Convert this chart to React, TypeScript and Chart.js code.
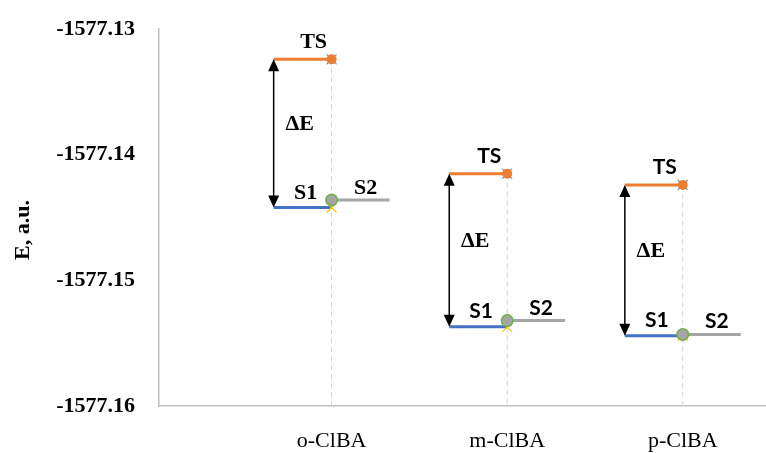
import React, { useEffect, useRef } from "react";
import { Chart, registerables } from "chart.js";

Chart.register(...registerables);

// ---- data ----
const CATEGORIES = ["o-ClBA", "m-ClBA", "p-ClBA"];
const TS_E = [-1577.1324, -1577.1415, -1577.1424];
const S1_E = [-1577.1442, -1577.1537, -1577.1544];
const S2_E = [-1577.1436, -1577.1532, -1577.1543];
const Y_TICKS = [-1577.16, -1577.15, -1577.14, -1577.13];
const Y_TITLE = "E, a.u.";
const DELTA_LABEL = "ΔE";

// ---- styles / layout ----
const HALF = 0.33;
const ORANGE = "#ED7D31";
const BLUE = "#4472C4";
const GRAY = "#A5A5A5";
const GREEN = "#70AD47";
const YELLOW = "#FFC000";
const LIGHTBLUE = "#5B9BD5";
const SERIF = "'Liberation Serif', 'Times New Roman', serif";
const SANS = "Lato, 'Open Sans', sans-serif";
const LEVEL_FONTS = [`bold 22px ${SERIF}`, `bold 21px ${SANS}`, `bold 21px ${SANS}`];

const Y_MIN = Y_TICKS[0];
const Y_MAX = Y_TICKS[Y_TICKS.length - 1];

function levelLine(x0: number, x1: number, y: number, color: string) {
  return {
    data: [
      { x: x0, y },
      { x: x1, y },
    ],
    showLine: true,
    borderColor: color,
    backgroundColor: color,
    borderWidth: 3,
    pointRadius: 0,
    order: 5,
  };
}

const annotPlugin = {
  id: "annot",
  afterDatasetsDraw(chart: any) {
    const { ctx, scales } = chart;
    const xs = scales.x;
    const ys = scales.y;
    ctx.save();
    CATEGORIES.forEach((_, i) => {
      const px = xs.getPixelForValue(i + 1);
      const ax = xs.getPixelForValue(i + 1 - HALF);
      const yT = ys.getPixelForValue(TS_E[i]);
      const y1 = ys.getPixelForValue(S1_E[i]);
      const y2 = ys.getPixelForValue(S2_E[i]);
      // double arrow
      const head = 12;
      const hw = 5.5;
      ctx.strokeStyle = "#000";
      ctx.fillStyle = "#000";
      ctx.lineWidth = 1.5;
      ctx.beginPath();
      ctx.moveTo(ax, yT + head - 1);
      ctx.lineTo(ax, y1 - head + 1);
      ctx.stroke();
      ctx.beginPath();
      ctx.moveTo(ax, yT);
      ctx.lineTo(ax - hw, yT + head);
      ctx.lineTo(ax + hw, yT + head);
      ctx.closePath();
      ctx.fill();
      ctx.beginPath();
      ctx.moveTo(ax, y1);
      ctx.lineTo(ax - hw, y1 - head);
      ctx.lineTo(ax + hw, y1 - head);
      ctx.closePath();
      ctx.fill();
      // labels
      ctx.textAlign = "center";
      ctx.textBaseline = "alphabetic";
      ctx.font = LEVEL_FONTS[i];
      ctx.fillText("TS", px - 18, yT - 11);
      ctx.fillText("S1", px - 26, y1 - 9);
      ctx.fillText("S2", px + 34, y2 - 6);
      ctx.font = `bold 22px ${SERIF}`;
      ctx.fillText(DELTA_LABEL, ax + 26, (yT + y1) / 2 - 3);
    });
    // y-axis title
    ctx.save();
    ctx.translate(23, 230);
    ctx.rotate(-Math.PI / 2);
    ctx.font = `bold 22px ${SERIF}`;
    ctx.textAlign = "center";
    ctx.textBaseline = "middle";
    ctx.fillStyle = "#000";
    ctx.fillText(Y_TITLE, 0, 0);
    ctx.restore();
    ctx.restore();
  },
};

export default function App() {
  const ref = useRef<HTMLCanvasElement | null>(null);

  useEffect(() => {
    if (!ref.current) return;
    const idx = CATEGORIES.map((_, i) => i);

    const dropLines = idx.map((i) => ({
      data: [
        { x: i + 1, y: TS_E[i] },
        { x: i + 1, y: Y_MIN },
      ],
      showLine: true,
      borderColor: "#D0D0D0",
      borderWidth: 1,
      borderDash: [5, 4],
      pointRadius: 0,
      order: 10,
    }));
    const tsLines = idx.map((i) => levelLine(i + 1 - HALF, i + 1, TS_E[i], ORANGE));
    const s1Lines = idx.map((i) => levelLine(i + 1 - HALF, i + 1, S1_E[i], BLUE));
    const s2Lines = idx.map((i) => levelLine(i + 1, i + 1 + HALF, S2_E[i], GRAY));

    const markers = [
      {
        data: idx.map((i) => ({ x: i + 1, y: S1_E[i] })),
        pointStyle: "crossRot",
        pointRadius: 7,
        borderColor: YELLOW,
        borderWidth: 1.2,
        order: 4,
      },
      {
        data: idx.map((i) => ({ x: i + 1, y: S2_E[i] })),
        pointStyle: "circle",
        pointRadius: 6.5,
        backgroundColor: GREEN,
        borderColor: GREEN,
        borderWidth: 0,
        order: 3,
      },
      {
        data: idx.map((i) => ({ x: i + 1, y: S2_E[i] })),
        pointStyle: "circle",
        pointRadius: 5,
        backgroundColor: GRAY,
        borderColor: GRAY,
        borderWidth: 0,
        order: 2,
      },
      {
        data: idx.map((i) => ({ x: i + 1, y: TS_E[i] })),
        pointStyle: "crossRot",
        pointRadius: 7,
        borderColor: LIGHTBLUE,
        borderWidth: 1.2,
        order: 1,
      },
      {
        data: idx.map((i) => ({ x: i + 1, y: TS_E[i] })),
        pointStyle: "circle",
        pointRadius: 5,
        backgroundColor: ORANGE,
        borderColor: ORANGE,
        borderWidth: 0,
        order: 0,
      },
    ];

    const chart = new Chart(ref.current, {
      type: "scatter",
      data: {
        datasets: [...dropLines, ...tsLines, ...s1Lines, ...s2Lines, ...markers] as any,
      },
      options: {
        responsive: false,
        animation: false,
        devicePixelRatio: 1,
        layout: { padding: { top: 28, right: 0, left: 0, bottom: 0 } },
        plugins: { legend: { display: false }, tooltip: { enabled: false } },
        events: [],
        scales: {
          x: {
            type: "linear",
            min: 0.017,
            max: 3.507,
            grid: { display: false },
            border: { display: true, color: "#BFBFBF", width: 1.5 },
            afterBuildTicks: (s: any) => {
              s.ticks = CATEGORIES.map((_, i) => ({ value: i + 1 }));
            },
            afterFit: (s: any) => {
              s.height = 47;
            },
            ticks: {
              padding: 14,
              color: "#000",
              font: { family: SERIF, size: 22, weight: "normal" },
              callback: (v: any) => CATEGORIES[Math.round(Number(v)) - 1] ?? "",
            },
          },
          y: {
            type: "linear",
            min: Y_MIN,
            max: Y_MAX,
            grid: { display: false },
            border: { display: true, color: "#BFBFBF", width: 1.5 },
            afterBuildTicks: (s: any) => {
              s.ticks = Y_TICKS.map((v) => ({ value: v }));
            },
            afterFit: (s: any) => {
              s.width = 159;
            },
            ticks: {
              padding: 16,
              color: "#000",
              font: { family: SERIF, size: 22, weight: "bold" },
              callback: (v: any) => Number(v).toFixed(2),
            },
          },
        },
      },
      plugins: [annotPlugin],
    });
    return () => chart.destroy();
  }, []);

  return (
    <div
      style={{
        position: "absolute",
        left: 0,
        top: 0,
        width: 766,
        height: 453,
        overflow: "hidden",
        background: "#fff",
      }}
    >
      <canvas ref={ref} width={780} height={453} style={{ display: "block" }} />
    </div>
  );
}
